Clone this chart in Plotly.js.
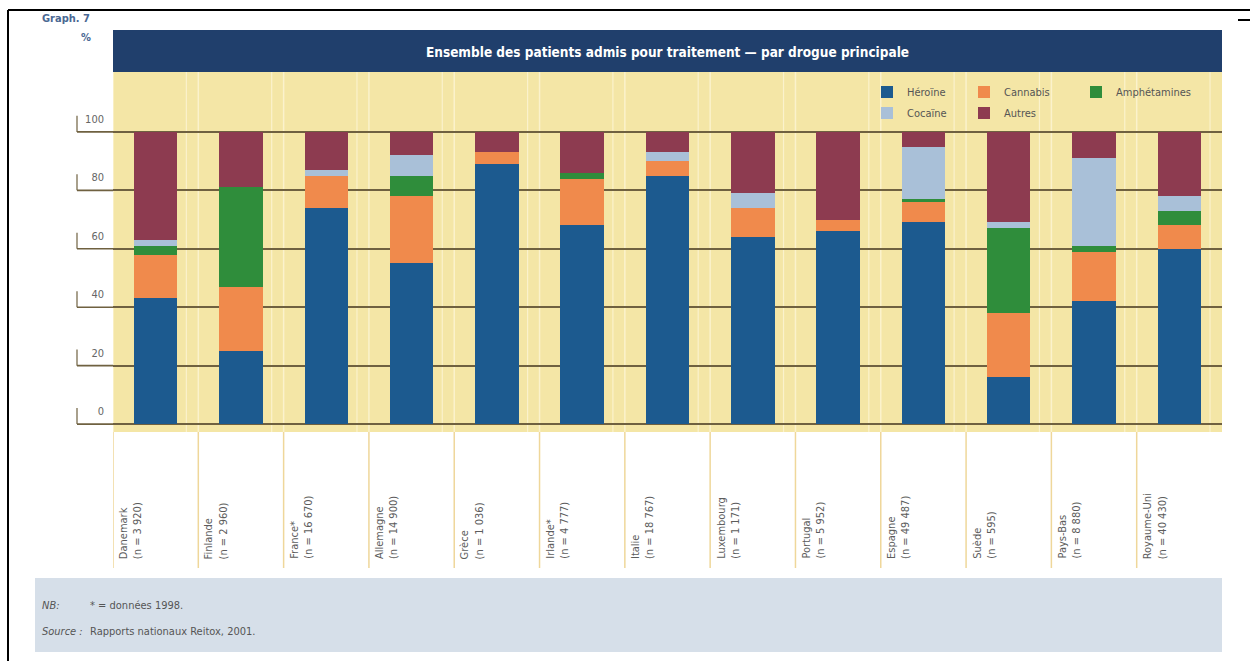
<!DOCTYPE html>
<html><head><meta charset="utf-8">
<script src="https://cdn.plot.ly/plotly-3.0.1.min.js"></script>
<style>html,body{margin:0;padding:0;background:#fff}#chart{width:1255px;height:661px}</style>
</head><body><div id="chart"></div>
<script>
// ---- data ----
const categories = ['Danemark','Finlande','France*','Allemagne','Grèce','Irlande*','Italie','Luxembourg','Portugal','Espagne','Suède','Pays-Bas','Royaume-Uni'];
const sampleSizes = ['3 920','2 960','16 670','14 900','1 036','4 777','18 767','1 171','5 952','49 487','595','8 880','40 430'];
const heroine      = [43, 25, 74, 55, 89, 68, 85, 64, 66, 69, 16, 42, 60];
const cannabis     = [15, 22, 11, 23,  4, 16,  5, 10,  4,  7, 22, 17,  8];
const amphetamines = [ 3, 34,  0,  7,  0,  2,  0,  0,  0,  1, 29,  2,  5];
const cocaine      = [ 2,  0,  2,  7,  0,  0,  3,  5,  0, 18,  2, 30,  5];
const autres       = [37, 19, 13,  8,  7, 14,  7, 21, 30,  5, 31,  9, 22];
const seriesNames  = ['Héroïne','Cannabis','Amphétamines','Cocaïne','Autres'];
const yTicks       = [0, 20, 40, 60, 80, 100];
const titleText    = 'Ensemble des patients admis pour traitement — par drogue principale';
const noteLines    = [['NB:', '* = données 1998.'], ['Source :', 'Rapports nationaux Reitox, 2001.']];

// ---- layout helpers ----
const W = 1255, H = 661, L = 113, R = 33, T = 72, B = 229;
const PW = W - L - R, PH = H - T - B;
const xp = px => (px - L) / PW;
const yp = py => (T + PH - py) / PH;
const FONT = '"Liberation Sans Narrow","DejaVu Sans Condensed","Liberation Sans",sans-serif';
const colors = ['#1c5a8f', '#f08a4c', '#2f8d3b', '#a9c0d8', '#8d3b50'];
const values = [heroine, cannabis, amphetamines, cocaine, autres];
const legendOf = ['legend', 'legend', 'legend3', 'legend2', 'legend2'];

const traces = values.map((v, i) => ({
  type: 'bar', name: seriesNames[i], x: categories, y: v, width: 0.51,
  marker: { color: colors[i], line: { width: 0 } },
  legend: legendOf[i],
  hovertemplate: '%{x}: %{y}%<extra>' + seriesNames[i] + '</extra>'
}));

const shapes = [];
const line = (x0, y0, x1, y1, color, width, xref, yref, layer) =>
  shapes.push({ type: 'line', xref: xref || 'paper', yref: yref || 'paper', x0, y0, x1, y1,
                line: { color, width }, layer: layer || 'above' });

// frame
line(xp(8), yp(10), xp(1250), yp(10), '#000', 2);
line(xp(8), yp(10), xp(8), yp(661), '#000', 2);
line(xp(1238), yp(20), xp(1250), yp(20), '#000', 2);
// header band
shapes.push({ type: 'rect', xref: 'paper', yref: 'paper', x0: 0, x1: 1, y0: 1, y1: yp(30),
              fillcolor: '#203f6c', line: { width: 0 }, layer: 'above' });
// note band
shapes.push({ type: 'rect', xref: 'paper', yref: 'paper', x0: xp(35), x1: 1, y0: yp(578), y1: yp(652),
              fillcolor: '#d6dfe9', line: { width: 0 }, layer: 'below' });
// pale stripes in the yellow field, and label separators
categories.forEach((c, k) => {
  line(k - 0.5, 0, k - 0.5, 1, '#fbf2cc', 1.5, 'x', 'paper', 'below');
  line(k + 0.36, 0, k + 0.36, 1, '#fbf2cc', 1.2, 'x', 'paper', 'below');
  line(k - 0.5, yp(432), k - 0.5, yp(568), '#efd79a', 1.5, 'x', 'paper', 'above');
});
// L-shaped tick marks left of the plot
yTicks.forEach(v => {
  line(xp(77), v, 0, v, '#6f6140', 1.6, 'paper', 'y', 'above');
  line(xp(77), v, xp(77), v + 5.5, '#6f6140', 1.2, 'paper', 'y', 'above');
});

const annotations = [];
annotations.push({ xref: 'paper', yref: 'paper', x: xp(40), y: yp(18), xanchor: 'left', yanchor: 'middle',
  text: '<b>Graph. 7</b>', showarrow: false, font: { family: FONT, size: 11, color: '#4a6893' } });
annotations.push({ xref: 'paper', yref: 'paper', x: xp(93), y: yp(38), xanchor: 'right', yanchor: 'middle',
  text: '<b>%</b>', showarrow: false, font: { family: FONT, size: 11, color: '#4a6893' } });
categories.forEach((c, k) => {
  annotations.push({ xref: 'x', yref: 'paper', x: k, xshift: -25, y: yp(561), yanchor: 'bottom', xanchor: 'center',
    textangle: -90, align: 'left', showarrow: false,
    text: c + '<br>(n = ' + sampleSizes[k] + ')',
    font: { family: FONT, size: 11, color: '#5c5c5c' } });
});
noteLines.forEach((nl, i) => {
  const py = 605 + i * 26;
  annotations.push({ xref: 'paper', yref: 'paper', x: xp(40), y: yp(py), xanchor: 'left', yanchor: 'middle',
    text: '<i>' + nl[0] + '</i>', showarrow: false, font: { family: FONT, size: 11, color: '#555' } });
  annotations.push({ xref: 'paper', yref: 'paper', x: xp(88), y: yp(py), xanchor: 'left', yanchor: 'middle',
    text: nl[1], showarrow: false, font: { family: FONT, size: 11, color: '#555' } });
});

const legendBase = { orientation: 'h', xanchor: 'left', yanchor: 'middle', x: xp(867),
  bgcolor: 'rgba(0,0,0,0)', traceorder: 'normal', entrywidth: 52,
  font: { family: FONT, size: 11, color: '#555' } };

const layout = {
  width: W, height: H,
  margin: { l: L, r: R, t: T, b: B },
  paper_bgcolor: '#ffffff', plot_bgcolor: '#f4e6a6',
  barmode: 'stack', bargap: 0.49,
  title: { text: titleText, xref: 'paper', x: 0.5, xanchor: 'center', yref: 'container', y: 1 - 52 / H, yanchor: 'middle',
           font: { family: FONT, size: 13.5, color: '#ffffff', weight: 700 } },
  xaxis: { type: 'category', range: [-0.5, 12.5], showticklabels: false, showgrid: false, zeroline: false,
           showline: false, ticks: '', fixedrange: true },
  yaxis: { range: [-2.7, 120.5], tickmode: 'array', tickvals: yTicks, showgrid: true, gridcolor: '#6f6140', gridwidth: 1.6,
           zeroline: false, showline: false, ticks: '', ticklabelshift: -13, ticklabelstandoff: 8,
           tickfont: { family: FONT, size: 11, color: '#666' }, fixedrange: true },
  legend: Object.assign({}, legendBase, { y: yp(92) }),
  legend2: Object.assign({}, legendBase, { y: yp(113) }),
  legend3: Object.assign({}, legendBase, { y: yp(92), x: xp(1076), entrywidth: 0 }),
  shapes, annotations
};

Plotly.newPlot('chart', traces, layout, { displayModeBar: false, staticPlot: false });
</script>
</body></html>
